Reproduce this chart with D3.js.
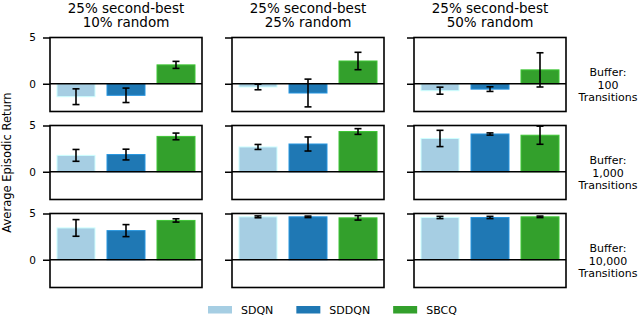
<!DOCTYPE html>
<html>
<head>
<meta charset="utf-8">
<script src="https://cdn.jsdelivr.net/npm/d3@7"></script>
<style>
  body { margin: 0; background: #fff; }
  svg { display: block; font-family: "DejaVu Sans", sans-serif; }
</style>
</head>
<body>
<div id="chart"></div>
<script>
// series / categories
var methods = ["SDQN", "SDDQN", "SBCQ"];
var colors = ["#a6cee3", "#1f78b4", "#33a02c"];
var colTitles = [["25% second-best", "10% random"],
                 ["25% second-best", "25% random"],
                 ["25% second-best", "50% random"]];
var rowLabels = [["Buffer:", "100", "Transitions"],
                 ["Buffer:", "1,000", "Transitions"],
                 ["Buffer:", "10,000", "Transitions"]];
var yTicks = [0, 5];

// mean return per column, [SDQN, SDDQN, SBCQ]
var mean100 = [[-1.4, -1.25, 2.04], [-0.35, -1.0, 2.46], [-0.75, -0.58, 1.5]];
var err100 = [[0.85, 0.78, 0.38], [0.3, 1.5, 0.94], [0.38, 0.25, 1.85]];
var mean1000 = [[1.77, 1.86, 3.82], [2.68, 3.0, 4.35], [3.6, 4.08, 3.95]];
var err1000 = [[0.64, 0.58, 0.36], [0.27, 0.76, 0.31], [0.88, 0.12, 0.98]];
var mean10000 = [[3.44, 3.15, 4.25], [4.64, 4.64, 4.53], [4.57, 4.57, 4.64]];
var err10000 = [[0.9, 0.65, 0.18], [0.1, 0.08, 0.24], [0.12, 0.12, 0.08]];

var means = [mean100, mean1000, mean10000];
var errs = [err100, err1000, err10000];

var W = 640, H = 318;
var panelW = 152, panelH = 74;
var left0 = 50, colStep = 182;
var top0 = 37.5, rowStep = 88;

var svg = d3.select("#chart").append("svg")
  .attr("width", W).attr("height", H);

var x = d3.scaleBand()
  .domain(methods)
  .range([0, panelW])
  .paddingInner(0.24)
  .paddingOuter(0.14);

var color = d3.scaleOrdinal().domain(methods).range(colors);

for (var r = 0; r < 3; r++) {
  for (var c = 0; c < 3; c++) {
    var y = d3.scaleLinear().domain([-3, 5]).range([panelH, 0]);
    var g = svg.append("g")
      .attr("transform", "translate(" + (left0 + c * colStep) + "," + (top0 + r * rowStep) + ")");

    var rows = methods.map(function (m, i) {
      return {name: m, value: means[r][c][i], err: errs[r][c][i]};
    });

    // bars
    g.selectAll("rect.bar")
      .data(rows)
      .enter()
      .append("rect")
      .attr("class", "bar")
      .attr("x", function (d) { return x(d.name); })
      .attr("width", x.bandwidth())
      .attr("y", function (d) { return y(Math.max(0, d.value)); })
      .attr("height", function (d) { return Math.abs(y(d.value) - y(0)); })
      .attr("fill", function (d) { return color(d.name); })
      .attr("stroke", function (d) { return d3.color(color(d.name)).brighter(0.6); })
      .attr("stroke-width", 1);

    // error bars
    var eb = g.selectAll("g.err")
      .data(rows)
      .enter()
      .append("g")
      .attr("class", "err")
      .attr("stroke", "#000")
      .attr("stroke-width", 1.6);
    eb.append("line")
      .attr("x1", function (d) { return x(d.name) + x.bandwidth() / 2; })
      .attr("x2", function (d) { return x(d.name) + x.bandwidth() / 2; })
      .attr("y1", function (d) { return y(d.value - d.err); })
      .attr("y2", function (d) { return y(d.value + d.err); });
    [-1, 1].forEach(function (s) {
      eb.append("line")
        .attr("x1", function (d) { return x(d.name) + x.bandwidth() / 2 - 3.5; })
        .attr("x2", function (d) { return x(d.name) + x.bandwidth() / 2 + 3.5; })
        .attr("y1", function (d) { return y(d.value + s * d.err); })
        .attr("y2", function (d) { return y(d.value + s * d.err); });
    });

    // y axis
    var ax = g.append("g")
      .call(d3.axisLeft(y).tickValues(yTicks).tickSize(7).tickSizeOuter(0)
        .tickFormat(c == 0 ? d3.format("d") : function () { return ""; }));
    ax.select(".domain").remove();
    ax.selectAll(".tick line").attr("stroke", "#000").attr("stroke-width", 1.5);
    ax.selectAll(".tick text")
      .attr("x", -14)
      .style("font-family", "DejaVu Sans")
      .style("font-size", "10.5px")
      .attr("fill", "#000");

    // zero line
    g.append("line")
      .attr("x1", 0).attr("x2", panelW)
      .attr("y1", y(0)).attr("y2", y(0))
      .attr("stroke", "#000").attr("stroke-width", 1.6);

    // frame
    g.append("rect")
      .attr("width", panelW).attr("height", panelH)
      .attr("fill", "none")
      .attr("stroke", "#000")
      .attr("stroke-width", 1.6);
  }
}

// column titles
colTitles.forEach(function (lines, c) {
  lines.forEach(function (t, k) {
    svg.append("text")
      .attr("x", left0 + c * colStep + panelW / 2)
      .attr("y", 12.5 + k * 14.8)
      .attr("text-anchor", "middle")
      .style("font-size", "13.5px")
      .attr("fill", "#000")
      .text(t);
  });
});

// row labels on the right
rowLabels.forEach(function (lines, r) {
  lines.forEach(function (t, k) {
    svg.append("text")
      .attr("x", 608)
      .attr("y", top0 + r * rowStep + 38.5 + k * 12.6)
      .attr("text-anchor", "middle")
      .style("font-size", "11px")
      .attr("fill", "#000")
      .text(t);
  });
});

// y axis label
svg.append("text")
  .attr("transform", "translate(11," + (top0 + rowStep + panelH / 2) + ") rotate(-90)")
  .attr("text-anchor", "middle")
  .style("font-size", "11.5px")
  .attr("fill", "#000")
  .text("Average Episodic Return");

// legend
var lx = 208;
methods.forEach(function (m, i) {
  svg.append("rect")
    .attr("x", lx).attr("y", 306)
    .attr("width", 24).attr("height", 7.5)
    .attr("fill", colors[i]);
  var t = svg.append("text")
    .attr("x", lx + 33).attr("y", 314)
    .style("font-size", "11px")
    .attr("fill", "#000")
    .text(m);
  lx = lx + 33 + t.node().getComputedTextLength() + 23;
});
</script>
</body>
</html>
